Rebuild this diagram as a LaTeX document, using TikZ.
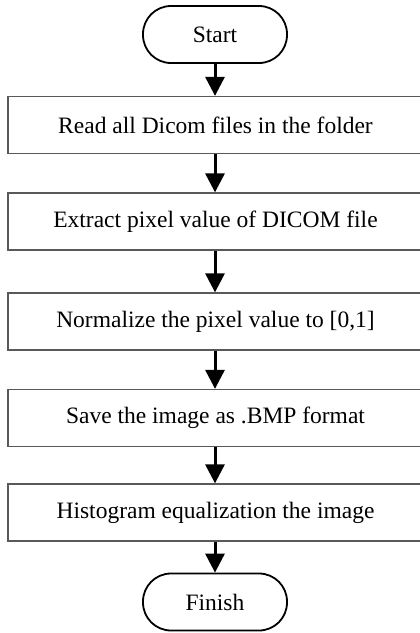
\documentclass[tikz,border=0pt]{standalone}
\usepackage{fontspec}
\setmainfont{Liberation Serif}
\usetikzlibrary{arrows.meta}
\begin{document}
\begin{tikzpicture}[x=1pt,y=-1pt,
  term/.style={draw=black, line width=1.8pt, rounded corners=28pt, minimum width=144pt, minimum height=57pt, inner sep=0pt, font=\fontsize{23.5}{28}\selectfont},
  procbox/.style={draw=black!65, line width=1.3pt, minimum width=415pt, minimum height=57pt, inner sep=0pt, font=\fontsize{23.5}{28}\selectfont},
  flow/.style={line width=3pt, -{Triangle[width=19pt,length=19pt]}}]
\clip (0,0) rectangle (420,633);
\fill[white] (0,0) rectangle (420,633);
\node[term] (start) at (215,34.5) {Start};
\node[procbox] (b1) at (215.5,125) {Read all Dicom files in the folder};
\node[procbox] (b2) at (215.5,221.5) {Extract pixel value of DICOM file};
\node[procbox] (b3) at (215.5,321.5) {Normalize the pixel value to [0,1]};
\node[procbox] (b4) at (215.5,418) {Save the image as .BMP format};
\node[procbox] (b5) at (215.5,512.5) {Histogram equalization the image};
\node[term] (finish) at (215,602) {Finish};
\draw[flow] (start.south) -- (start.south |- b1.north);
\draw[flow] (b1.south -| start.south) -- (start.south |- b2.north);
\draw[flow] (b2.south -| start.south) -- (start.south |- b3.north);
\draw[flow] (b3.south -| start.south) -- (start.south |- b4.north);
\draw[flow] (b4.south -| start.south) -- (start.south |- b5.north);
\draw[flow] (b5.south -| start.south) -- (finish.north);
\end{tikzpicture}
\end{document}
